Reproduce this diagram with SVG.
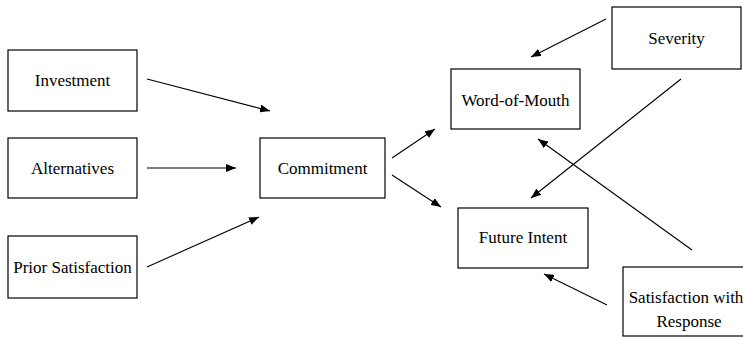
<svg xmlns="http://www.w3.org/2000/svg" width="743" height="337" viewBox="0 0 743 337">
<style>
.box{fill:#fff;stroke:#000;stroke-width:1.2}
.edge{stroke:#000;stroke-width:1.1;fill:none}
</style>
<defs>
<marker id="ah" viewBox="0 0 10 8" refX="10" refY="4" markerWidth="10" markerHeight="8" markerUnits="userSpaceOnUse" orient="auto">
<path d="M0,0 L10,4 L0,8 Z" fill="#000"/>
</marker>
</defs>
<rect width="743" height="337" fill="#fff"/>
<g font-family="'Liberation Serif', 'Times New Roman', 'DejaVu Serif', serif" font-size="17" text-anchor="middle" fill="#000">
<g id="investment"><rect class="box" x="8" y="50" width="129" height="61"/><text x="72.5" y="86">Investment</text></g>
<g id="alternatives"><rect class="box" x="8" y="138" width="129" height="60"/><text x="72.5" y="174">Alternatives</text></g>
<g id="prior-satisfaction"><rect class="box" x="8" y="236" width="129" height="62"/><text x="72.5" y="273">Prior Satisfaction</text></g>
<g id="commitment"><rect class="box" x="260" y="138" width="125" height="60"/><text x="322.5" y="174">Commitment</text></g>
<g id="word-of-mouth"><rect class="box" x="451" y="69" width="129" height="60"/><text x="515.5" y="106">Word-of-Mouth</text></g>
<g id="severity"><rect class="box" x="612" y="7" width="129" height="62"/><text x="676.5" y="44">Severity</text></g>
<g id="future-intent"><rect class="box" x="458" y="208" width="130" height="60"/><text x="523" y="243">Future Intent</text></g>
<g id="satisfaction-with-response"><rect class="box" x="623" y="267" width="130" height="69"/><text x="686" y="303">Satisfaction with</text><text x="689" y="327">Response</text></g>
</g>
<g id="connectors">
<line class="edge" x1="147" y1="79" x2="270" y2="111" marker-end="url(#ah)"/>
<line class="edge" x1="147" y1="168" x2="236" y2="168" marker-end="url(#ah)"/>
<line class="edge" x1="147" y1="267" x2="259" y2="217" marker-end="url(#ah)"/>
<line class="edge" x1="392" y1="158" x2="435" y2="129" marker-end="url(#ah)"/>
<line class="edge" x1="392" y1="175" x2="441" y2="207" marker-end="url(#ah)"/>
<line class="edge" x1="606" y1="19" x2="531" y2="57" marker-end="url(#ah)"/>
<line class="edge" x1="681" y1="79" x2="531" y2="198" marker-end="url(#ah)"/>
<line class="edge" x1="692" y1="250" x2="538" y2="139" marker-end="url(#ah)"/>
<line class="edge" x1="607" y1="305" x2="544" y2="274" marker-end="url(#ah)"/>
</g>
</svg>
